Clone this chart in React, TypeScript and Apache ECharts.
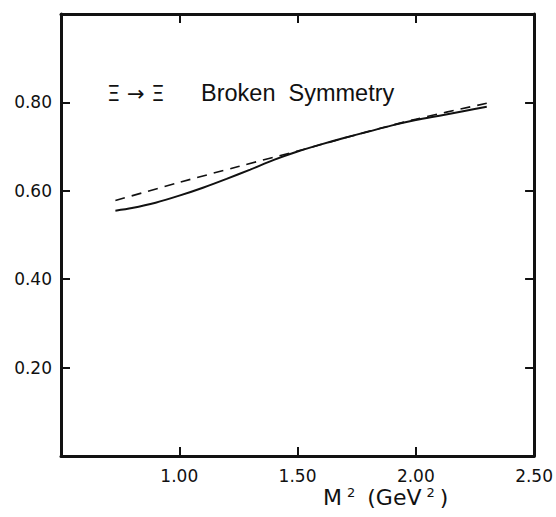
import React, { useEffect, useRef } from "react";
import * as echarts from "echarts";

const xTicks = [0.5, 1.0, 1.5, 2.0, 2.5];
const yTicks = [0, 0.2, 0.4, 0.6, 0.8, 1.0];

const solidX = [0.73, 0.8, 0.9, 1.0, 1.1, 1.2, 1.3, 1.4, 1.5, 1.6, 1.7, 1.8, 1.9, 2.0, 2.1, 2.2, 2.3];
const solidY = [0.555, 0.561, 0.573, 0.589, 0.607, 0.627, 0.648, 0.670, 0.689, 0.705, 0.720, 0.734, 0.748, 0.760, 0.770, 0.780, 0.790];

const dashedX = [0.73, 1.0, 1.25, 1.5, 1.75, 2.0, 2.3];
const dashedY = [0.578, 0.619, 0.655, 0.690, 0.727, 0.762, 0.798];

const panelLabel = "Ξ\u00a0→\u00a0Ξ";
const panelTitle = "Broken\u00a0\u00a0Symmetry";

export default function App() {
  const ref = useRef<HTMLDivElement>(null);
  useEffect(() => {
    if (!ref.current) return;
    const chart = echarts.init(ref.current, null, { renderer: "svg" });
    const axisLine = { show: true, onZero: false, lineStyle: { color: "#111", width: 3 } };
    const tick = { show: true, inside: true, length: 9, lineStyle: { color: "#111", width: 2 } };
    const labelFont = { fontFamily: "DejaVu Sans", fontSize: 17, color: "#111" };
    chart.setOption({
      animation: false,
      backgroundColor: "#fff",
      grid: { left: 61, right: 20, top: 14, bottom: 61, containLabel: false },
      xAxis: [
        {
          type: "value",
          position: "bottom",
          min: xTicks[0],
          max: xTicks[xTicks.length - 1],
          interval: 0.5,
          axisLine,
          axisTick: tick,
          splitLine: { show: false },
          axisLabel: {
            ...labelFont,
            margin: 11,
            formatter: (v: number) => (v < 0.75 ? "" : v.toFixed(2)),
          },
        },
        {
          type: "value",
          position: "top",
          min: xTicks[0],
          max: xTicks[xTicks.length - 1],
          interval: 0.5,
          axisLine,
          axisTick: tick,
          splitLine: { show: false },
          axisLabel: { show: false },
        },
      ],
      yAxis: [
        {
          type: "value",
          position: "left",
          min: yTicks[0],
          max: yTicks[yTicks.length - 1],
          interval: 0.2,
          axisLine,
          axisTick: tick,
          splitLine: { show: false },
          axisLabel: {
            ...labelFont,
            margin: 9,
            formatter: (v: number) => (v < 0.01 || v > 0.99 ? "" : v.toFixed(2)),
          },
        },
        {
          type: "value",
          position: "right",
          min: yTicks[0],
          max: yTicks[yTicks.length - 1],
          interval: 0.2,
          axisLine,
          axisTick: tick,
          splitLine: { show: false },
          axisLabel: { show: false },
        },
      ],
      series: [
        {
          type: "line",
          name: "solid",
          data: solidX.map((x, i) => [x, solidY[i]]),
          showSymbol: false,
          smooth: 0.3,
          lineStyle: { color: "#111", width: 2 },
          xAxisIndex: 0,
          yAxisIndex: 0,
        },
        {
          type: "line",
          name: "dashed",
          data: dashedX.map((x, i) => [x, dashedY[i]]),
          showSymbol: false,
          smooth: 0.3,
          lineStyle: { color: "#111", width: 1.6, type: [10, 7] },
          xAxisIndex: 0,
          yAxisIndex: 0,
        },
      ],
      graphic: [
        {
          type: "text",
          left: 107,
          top: 83,
          style: {
            text: panelLabel,
            fontFamily: "DejaVu Sans",
            fontSize: 21,
            fill: "#111",
          },
        },
        {
          type: "text",
          left: 201,
          top: 81,
          style: {
            text: panelTitle,
            fontFamily: "Liberation Sans",
            fontSize: 23.5,
            fill: "#111",
          },
        },
        {
          type: "text",
          left: 323,
          top: 486,
          style: {
            text: "M{sup|2}\u00a0({b|GeV}{sup|2})",
            fontFamily: "DejaVu Sans",
            fontSize: 22,
            fill: "#111",
            rich: {
              b: { fontFamily: "DejaVu Sans", fontSize: 22, fill: "#111" },
              sup: {
                fontFamily: "DejaVu Sans",
                fontSize: 13,
                fill: "#111",
                verticalAlign: "top",
                padding: [0, 5, 10, 5],
              },
            },
          },
        },
      ],
    });
    return () => chart.dispose();
  }, []);
  return (
    <div
      ref={ref}
      style={{ position: "absolute", left: 0, top: 0, width: 556, height: 517 }}
    />
  );
}
